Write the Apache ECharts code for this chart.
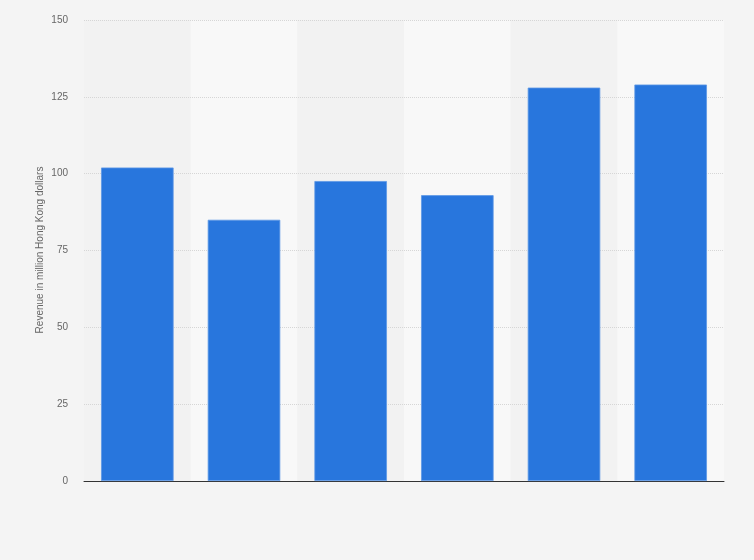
<!DOCTYPE html>
<html>
<head>
<meta charset="utf-8">
<script src="https://cdn.jsdelivr.net/npm/echarts@6/dist/echarts.min.js"></script>
<style>
html,body{margin:0;padding:0;background:#f4f4f4;}
#chart{width:754px;height:560px;}
</style>
</head>
<body>
<div id="chart"></div>
<script>
var categories = ['1', '2', '3', '4', '5', '6'];
var revenue = [102, 85, 97.6, 93, 128, 129];
var yTicks = [0, 25, 50, 75, 100, 125, 150];
var yAxisTitle = 'Revenue in million Hong Kong dollars';

var chart = echarts.init(document.getElementById('chart'));
chart.setOption({
  backgroundColor: '#f4f4f4',
  animation: false,
  grid: {left: 84, right: 30, top: 20, bottom: 79},
  graphic: [{
    type: 'text',
    x: 40,
    y: 250,
    rotation: Math.PI / 2,
    style: {
      text: yAxisTitle,
      fill: '#666',
      fontSize: 10,
      fontFamily: 'Liberation Sans, Arial, sans-serif',
      align: 'center',
      verticalAlign: 'middle'
    }
  }],
  xAxis: {
    type: 'category',
    data: categories,
    z: 0,
    axisLine: {lineStyle: {color: '#333', width: 1}},
    axisTick: {show: false},
    axisLabel: {show: false},
    splitArea: {show: true, areaStyle: {color: ['#f2f2f2', '#f8f8f8']}}
  },
  yAxis: {
    type: 'value',
    z: 1,
    min: yTicks[0],
    max: yTicks[yTicks.length - 1],
    interval: 25,
    axisLine: {show: false},
    axisTick: {show: false},
    axisLabel: {color: '#666', fontSize: 10, margin: 16, fontFamily: 'Liberation Sans, Arial, sans-serif'},
    splitLine: {showMinLine: false, lineStyle: {color: '#d6d6d6', type: [1, 1], width: 1}}
  },
  series: [{
    type: 'bar',
    z: 2,
    data: revenue,
    barCategoryGap: '32%',
    itemStyle: {color: '#2876dd', borderColor: '#5d98e6', borderWidth: 0.8}
  }]
});
</script>
</body>
</html>
